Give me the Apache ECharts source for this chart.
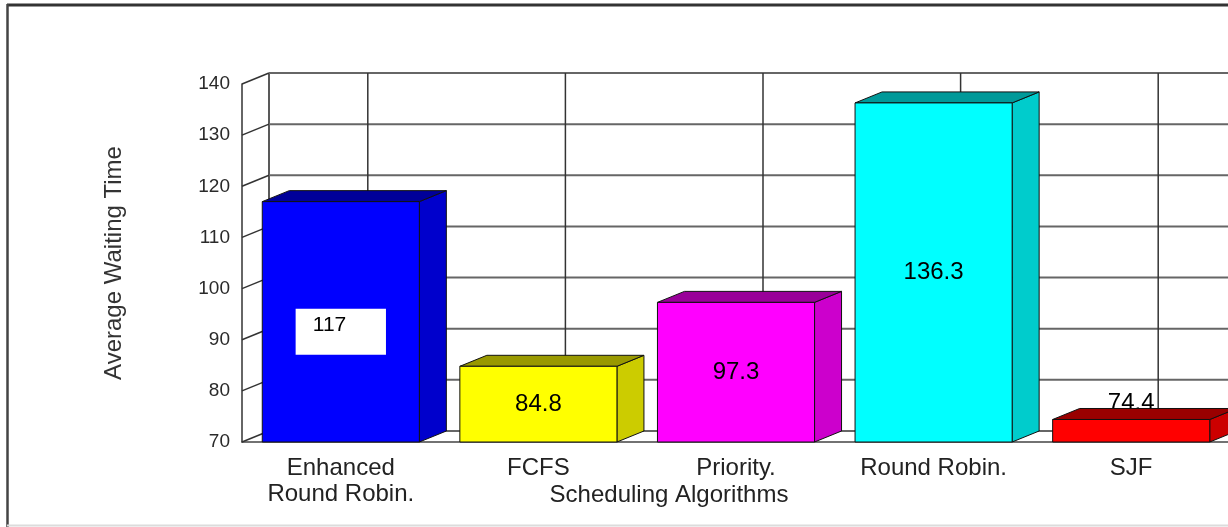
<!DOCTYPE html>
<html><head><meta charset="utf-8">
<script src="https://cdn.jsdelivr.net/npm/echarts@6/dist/echarts.min.js"></script>
<style>html,body{margin:0;padding:0;background:#fff}#c{width:1228px;height:527px}</style>
</head><body><div id="c"></div>
<script>
// ---- data ----
const categories = ['Enhanced\nRound Robin.', 'FCFS', 'Priority.', 'Round Robin.', 'SJF'];
const waitingTimes = [117, 84.8, 97.3, 136.3, 74.4];
const valueLabels = ['117', '84.8', '97.3', '136.3', '74.4'];
const yTicks = [70, 80, 90, 100, 110, 120, 130, 140];
const yMin = 70, yMax = 140, yStep = 10;

// ---- styles ----
const frontColors = ['#0000ff', '#ffff00', '#ff00ff', '#00ffff', '#ff0000'];
const sideColors  = ['#0000cc', '#cccc00', '#cc00cc', '#00cccc', '#cc0000'];
const topColors   = ['#000099', '#999900', '#990099', '#009999', '#990000'];
const boxedLabelIndex = 0;
const DX = 27, DY = -11;           // 3D depth offset
const BAR_FRAC = 0.795;
const FONT = '"Liberation Sans", Arial, sans-serif';

const chart = echarts.init(document.getElementById('c'), null, {renderer: 'canvas'});

function backWall(params, api) {
  const cs = params.coordSys;
  const y = api.coord([0, api.value(1)])[1];
  const x0 = cs.x, x1 = cs.x + cs.width;
  const children = [
    {type: 'line', shape: {x1: x0, y1: y, x2: x0 + DX, y2: y + DY},
     style: {stroke: '#333', lineWidth: 1.5}},
    {type: 'line', shape: {x1: x0 + DX, y1: y + DY, x2: x1 + DX + 40, y2: y + DY},
     style: {stroke: '#666', lineWidth: 2}}
  ];
  if (params.dataIndex === 0) {
    children.push({type: 'line',
      shape: {x1: x0 + DX, y1: cs.y + DY, x2: x0 + DX, y2: cs.y + cs.height + DY},
      style: {stroke: '#222', lineWidth: 1.5}});
  }
  return {type: 'group', children};
}

function backVertical(params, api) {
  const i = api.value(0);
  const t = api.coord([i, yMax]);
  const b = api.coord([i, yMin]);
  return {type: 'line', shape: {x1: t[0] + DX, y1: t[1] + DY, x2: b[0] + DX, y2: b[1] + DY},
    style: {stroke: '#333', lineWidth: 1.5}};
}

function bar3d(params, api) {
  const idx = params.dataIndex;
  const i = api.value(0), v = api.value(1);
  const top = api.coord([i, v]);
  const base = api.coord([i, yMin]);
  const band = api.size([1, 0])[0];
  const w = band * BAR_FRAC;
  const xl = top[0] - w / 2, xr = top[0] + w / 2;
  const yt = top[1], yb = base[1];
  const shapes = [
    {type: 'polygon', shape: {points: [[xr, yt], [xr + DX, yt + DY], [xr + DX, yb + DY], [xr, yb]]},
     style: {fill: sideColors[idx], stroke: '#111', lineWidth: 1}},
    {type: 'polygon', shape: {points: [[xl, yt], [xl + DX, yt + DY], [xr + DX, yt + DY], [xr, yt]]},
     style: {fill: topColors[idx], stroke: '#111', lineWidth: 1}},
    {type: 'rect', shape: {x: xl, y: yt, width: w, height: yb - yt},
     style: {fill: frontColors[idx], stroke: '#111', lineWidth: 1}}
  ];
  const mid = (yt + yb) / 2;
  if (idx === boxedLabelIndex) {
    const boxW = w * 0.575, boxH = 46;
    return {type: 'group', children: shapes.concat([
      {type: 'rect', shape: {x: top[0] - boxW / 2, y: mid + 10 - boxH / 2, width: boxW, height: boxH},
       style: {fill: '#fff'}},
      {type: 'text', x: top[0] - 28, y: mid + 3,
       style: {text: valueLabels[idx], font: '21px ' + FONT, fill: '#000',
         align: 'left', verticalAlign: 'middle'}}
    ])};
  }
  if (yb - yt > 40) {
    return {type: 'group', children: shapes.concat([
      {type: 'text', x: top[0], y: mid,
       style: {text: valueLabels[idx], font: '24px ' + FONT, fill: '#000',
         align: 'center', verticalAlign: 'middle'}}
    ])};
  }
  return {type: 'group', children: [
    {type: 'text', x: top[0], y: yt - 16,
     style: {text: valueLabels[idx], font: '24px ' + FONT, fill: '#000',
       align: 'center', verticalAlign: 'middle'}}
  ].concat(shapes)};
}

chart.setOption({
  animation: false,
  backgroundColor: '#fff',
  grid: {left: 242, top: 84, width: 988, height: 358, containLabel: false, outerBoundsMode: 'none'},
  xAxis: {
    type: 'category', data: categories,
    name: 'Scheduling Algorithms', nameLocation: 'middle', nameGap: 40, nameMoveOverlap: false,
    nameTextStyle: {fontFamily: FONT, fontSize: 24, lineHeight: 26, color: '#222', padding: [0, 134, 0, 0]},
    axisLine: {show: true, lineStyle: {color: '#444', width: 1.5}},
    axisTick: {show: false},
    axisLabel: {interval: 0, margin: 13, fontFamily: FONT, fontSize: 24, lineHeight: 26, color: '#222'},
    splitLine: {show: false}
  },
  yAxis: {
    type: 'value', min: yMin, max: yMax, interval: yStep,
    name: 'Average Waiting Time', nameLocation: 'middle', nameGap: 116, nameMoveOverlap: false,
    nameTextStyle: {fontFamily: FONT, fontSize: 24, color: '#333'},
    axisLine: {show: true, lineStyle: {color: '#333', width: 1.5}},
    axisTick: {show: false},
    axisLabel: {margin: 12, fontFamily: FONT, fontSize: 19, color: '#2a2a2a'},
    splitLine: {show: false}
  },
  graphic: [
    {type: 'line', shape: {x1: 7, y1: 5, x2: 1228, y2: 5}, style: {stroke: '#333', lineWidth: 3}},
    {type: 'line', shape: {x1: 7.5, y1: 4, x2: 7.5, y2: 527}, style: {stroke: '#444', lineWidth: 2.5}},
    {type: 'line', shape: {x1: 7, y1: 525.5, x2: 1228, y2: 525.5}, style: {stroke: '#dcdcdc', lineWidth: 2}}
  ],
  series: [
    {type: 'custom', name: 'backWall', z: 1, silent: true,
     data: yTicks.map(t => [0, t]), renderItem: backWall, clip: false},
    {type: 'custom', name: 'backVertical', z: 1, silent: true,
     data: categories.map((c, i) => [i, yMax]), renderItem: backVertical, clip: false},
    {type: 'custom', name: 'Average Waiting Time', z: 3,
     data: waitingTimes.map((v, i) => [i, v]), renderItem: bar3d, clip: false}
  ]
});
</script></body></html>
